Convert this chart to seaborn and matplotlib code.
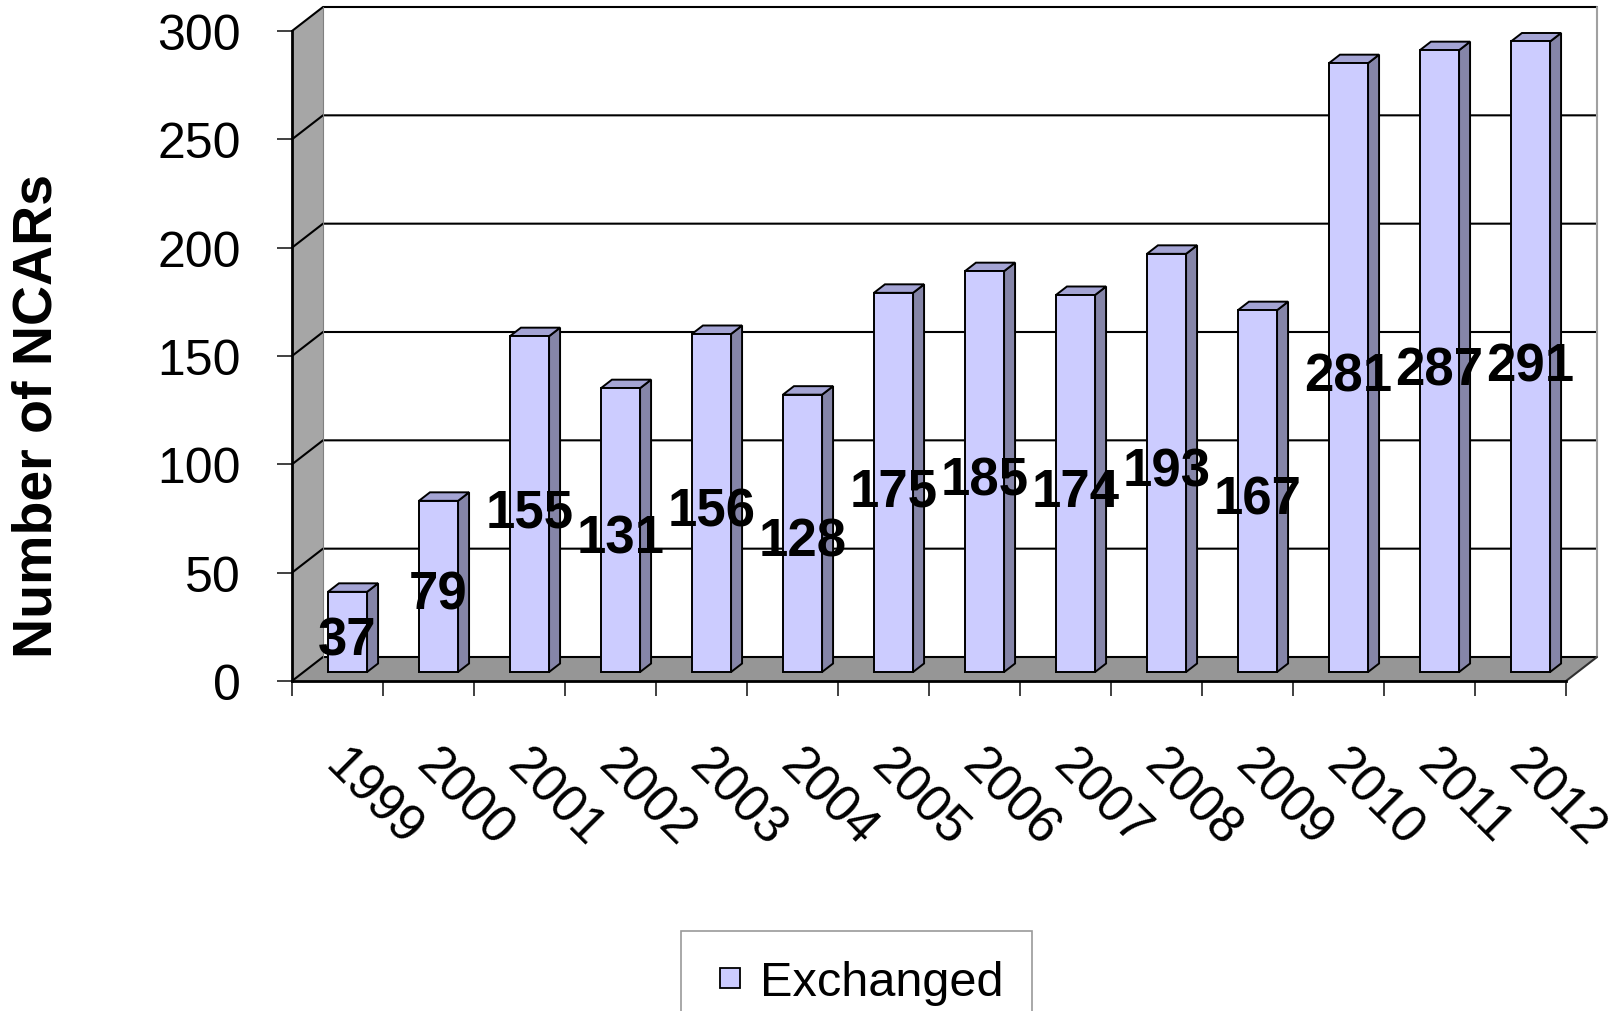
import matplotlib
matplotlib.use("Agg")
import matplotlib.pyplot as plt
import matplotlib.transforms as mtransforms
from matplotlib.patches import Polygon
from matplotlib.lines import Line2D
import numpy as np
import seaborn as sns

# NCARs exchanged per year
years = ["1999", "2000", "2001", "2002", "2003", "2004", "2005",
         "2006", "2007", "2008", "2009", "2010", "2011", "2012"]
exchanged = [37, 79, 155, 131, 156, 128, 175, 185, 174, 193, 167, 281, 287, 291]
y_ticks = [0, 50, 100, 150, 200, 250, 300]
series_name = "Exchanged"
y_title = "Number of NCARs"

# colours of the pseudo-3D column chart
FRONT = "#ccccff"
SIDE = "#8585a8"
TOP = "#a4a4d4"
SIDE_WALL = "#a6a6a6"
FLOOR = "#969696"

sns.set_style("white")
plt.rcParams["font.family"] = ["Liberation Sans", "DejaVu Sans"]
plt.rcParams["text.color"] = "black"
plt.rcParams["axes.labelcolor"] = "black"
plt.rcParams["xtick.color"] = "black"
plt.rcParams["ytick.color"] = "black"

W, H = 1623, 1012
fig = plt.figure(figsize=(W / 100, H / 100), dpi=100)
ax = fig.add_axes([292 / W, 1 - 682 / H, 1274 / W, 650 / H])

n = len(years)
ymax = y_ticks[-1]

# pixel -> data conversion for the depth offsets
bbox = ax.get_position()
ax_w_px = bbox.width * W
ax_h_px = bbox.height * H
px_x = ax_w_px / n
px_y = ax_h_px / ymax
wall_dx, wall_dy = 31 / px_x, 24 / px_y        # depth of the back wall
bar_ox, bar_oy = 10 / px_x, 9 / px_y           # columns sit a little behind the front
bar_dx, bar_dy = 11 / px_x, 8.5 / px_y         # column depth

# front faces of the columns
sns.barplot(x=years, y=exchanged, order=years, color=FRONT, saturation=1,
            width=0.43, edgecolor="black", linewidth=1.4, ax=ax, zorder=5)
ax.set_xlim(-0.5, n - 0.5)
ax.set_ylim(0, ymax)

x_lo, x_hi = -0.5, n - 0.5

# floor, side wall and back wall
floor = Polygon([(x_lo, 0), (x_lo + wall_dx, wall_dy), (x_hi + wall_dx, wall_dy), (x_hi, 0)],
                closed=True, facecolor=FLOOR, edgecolor="none", zorder=1, clip_on=False)
side_wall = Polygon([(x_lo, 0), (x_lo, ymax), (x_lo + wall_dx, ymax + wall_dy), (x_lo + wall_dx, wall_dy)],
                    closed=True, facecolor=SIDE_WALL, edgecolor="none", zorder=1, clip_on=False)
ax.add_patch(floor)
ax.add_patch(side_wall)

# gridlines on the side and back walls
for v in y_ticks:
    ax.add_line(Line2D([x_lo, x_lo + wall_dx, x_hi + wall_dx], [v, v + wall_dy, v + wall_dy],
                       color="black", lw=1.5, zorder=2, clip_on=False))
ax.add_line(Line2D([x_hi + wall_dx, x_hi + wall_dx], [wall_dy, ymax + wall_dy],
                   color="#a0a0a0", lw=1.5, zorder=2, clip_on=False))
ax.add_line(Line2D([x_hi, x_hi + wall_dx], [0, wall_dy],
                   color="#303030", lw=1.5, zorder=2, clip_on=False))
ax.add_line(Line2D([x_lo + wall_dx, x_lo + wall_dx], [wall_dy, ymax + wall_dy],
                   color="#808080", lw=0.8, zorder=2, clip_on=False))

# shift the front faces back and add side / top faces
for p, v in zip(ax.patches[:], exchanged):
    p.set_x(p.get_x() + bar_ox)
    p.set_y(bar_oy)
    p.set_clip_on(False)
    x0 = p.get_x()
    x1 = x0 + p.get_width()
    y0 = p.get_y()
    y1 = y0 + p.get_height()
    side = Polygon([(x1, y0), (x1, y1), (x1 + bar_dx, y1 + bar_dy), (x1 + bar_dx, y0 + bar_dy)],
                   closed=True, facecolor=SIDE, edgecolor="black", lw=1.4, zorder=4, clip_on=False)
    top = Polygon([(x0, y1), (x1, y1), (x1 + bar_dx, y1 + bar_dy), (x0 + bar_dx, y1 + bar_dy)],
                  closed=True, facecolor=TOP, edgecolor="black", lw=1.4, zorder=4, clip_on=False)
    ax.add_patch(side)
    ax.add_patch(top)
    ax.text(x0 + p.get_width() / 2, 0.498 * v - 6, str(v), ha="center", va="baseline",
            fontsize=38, fontweight="bold", color="black", zorder=8, clip_on=False)

# axes lines
for s in ["top", "right"]:
    ax.spines[s].set_visible(False)
for s in ["left", "bottom"]:
    ax.spines[s].set_visible(True)
    ax.spines[s].set_color("black")
    ax.spines[s].set_linewidth(2)
    ax.spines[s].set_zorder(3)

# y axis
ax.set_yticks(y_ticks)
ax.set_yticklabels([str(t) for t in y_ticks])
ax.tick_params(axis="y", which="major", direction="out", length=10.8, width=1.4,
               color="#404040", labelcolor="black", pad=26, labelsize=36, left=True)

# x axis: tick marks between categories, labels rotated
ax.set_xticks(np.arange(n))
ax.set_xticks(np.arange(-0.5, n, 1), minor=True)
ax.set_xticklabels(years, rotation=-45, ha="left", va="center", rotation_mode="anchor")
ax.tick_params(axis="x", which="major", length=0, pad=0, labelsize=37,
               labelcolor="black", bottom=True)
ax.tick_params(axis="x", which="minor", direction="out", length=10.8, width=1.4,
               color="#404040", bottom=True)
shift = mtransforms.ScaledTranslation(-5 / 100, -76 / 100, fig.dpi_scale_trans)
for lab in ax.get_xticklabels():
    lab.set_transform(lab.get_transform() + shift)
ax.set_xlabel("")

ax.set_ylabel(y_title, fontsize=40, fontweight="bold", va="center", color="black")
ax.yaxis.set_label_coords((38 - 292) / ax_w_px, (682 - 416) / ax_h_px)
ax.grid(False)

# legend
handles = [Line2D([], [], linestyle="none", marker="s", markersize=14,
                  markerfacecolor=FRONT, markeredgecolor="black", markeredgewidth=1.3,
                  label=series_name)]
leg = fig.legend(handles=handles, loc="upper left", bbox_to_anchor=(681 / W, 1 - 932 / H),
                 fontsize=35, frameon=True, fancybox=False, edgecolor="#808080",
                 handlelength=0.82, handletextpad=0.2,
                 borderpad=0.6, borderaxespad=0)
leg.get_frame().set_linewidth(1.2)
for t in leg.get_texts():
    t.set_color("black")

fig.savefig("out.png", dpi=100, facecolor="white")
